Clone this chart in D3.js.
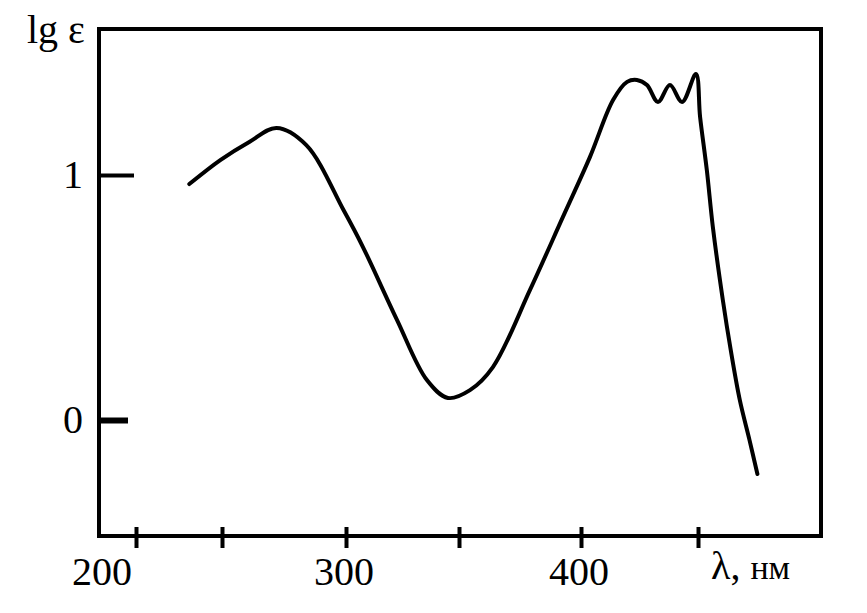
<!DOCTYPE html>
<html><head><meta charset="utf-8">
<script src="https://cdn.jsdelivr.net/npm/d3@7"></script>
<style>body{margin:0;background:#fff}svg{display:block}text{font-family:"Liberation Serif","Times New Roman",serif;fill:#000}</style>
</head><body><div id="chart"></div>
<script>
// wavelength, nm
const wavelength = [231,249,261,272,284,299,307.5,322.6,335.8,345.1,354.5,363.9,379.1,392.6,403.8,413.7,419.7,423.9,428.2,432.9,438.0,443.2,449.1,450.9,453.8,456.4,460.7,464.1,468.0,472.2,475.6];
// lg epsilon
const lgEps = [0.963,1.061,1.135,1.192,1.122,0.857,0.706,0.408,0.163,0.090,0.122,0.216,0.531,0.829,1.073,1.306,1.380,1.388,1.367,1.298,1.367,1.298,1.412,1.237,1.020,0.788,0.490,0.286,0.082,-0.082,-0.220];
const xTicks = [200,250,300,350,400,450];
const xTickLabels = ["200","300","400"];
const yTicks = [0,1];
const yTickLabels = ["0","1"];

const W=867,H=613;
const svg=d3.select("#chart").append("svg").attr("width",W).attr("height",H);
// hand-drawn axis: slightly uneven tick spacing, modelled piecewise
const x=d3.scaleLinear().domain([178.4,200,250,300,350,400,450,503]).range([99,136,222,346,459,581,698,821]);
const y=d3.scaleLinear().domain([-0.473,0,1,1.596]).range([536,420,175,29]);

// frame
svg.append("rect").attr("x",x(178.4)).attr("y",y(1.596)).attr("width",x(503)-x(178.4)).attr("height",y(-0.473)-y(1.596))
  .attr("fill","none").attr("stroke","#000").attr("stroke-width",4);

// x ticks crossing the bottom axis
const gx=svg.append("g").attr("transform",`translate(0,${y(-0.473)})`)
  .call(d3.axisBottom(x).tickValues(xTicks).tickSize(12).tickFormat(""));
gx.select(".domain").remove();
gx.selectAll(".tick line").attr("y1",-9).attr("stroke","#000").attr("stroke-width",4);

// y ticks pointing inward
const gy=svg.append("g").attr("transform",`translate(${x(178.4)},0)`)
  .call(d3.axisRight(y).tickValues(yTicks).tickSize(35).tickFormat(""));
gy.select(".domain").remove();
gy.selectAll(".tick line").attr("stroke","#000").attr("stroke-width",d=>d===0?6:4).attr("x2",d=>d===0?29:35);

// x labels
xTickLabels.forEach(t=>{
  const v=+t;
  svg.append("text").attr("x",v===200?x(v)-34:x(v)-2).attr("y",585)
    .attr("text-anchor","middle").attr("font-size",40).text(t);
});
// y labels
yTickLabels.forEach(t=>{
  const v=+t;
  svg.append("text").attr("x",73).attr("y",y(v)+13).attr("text-anchor","middle").attr("font-size",40).text(t);
});
// axis titles
svg.append("text").attr("x",27).attr("y",43).attr("font-size",40).text("lg ε");
const xt=svg.append("text").attr("x",711).attr("y",579).attr("font-size",40);
xt.append("tspan").text("λ, ");
xt.append("tspan").attr("font-size",34).text("нм");

// curve
const line=d3.line().x(d=>x(d[0])).y(d=>y(d[1])).curve(d3.curveCatmullRom.alpha(0.5));
svg.append("path").datum(wavelength.map((w,i)=>[w,lgEps[i]]))
  .attr("d",line).attr("fill","none").attr("stroke","#000").attr("stroke-width",4)
  .attr("stroke-linejoin","round").attr("stroke-linecap","round");
</script></body></html>
